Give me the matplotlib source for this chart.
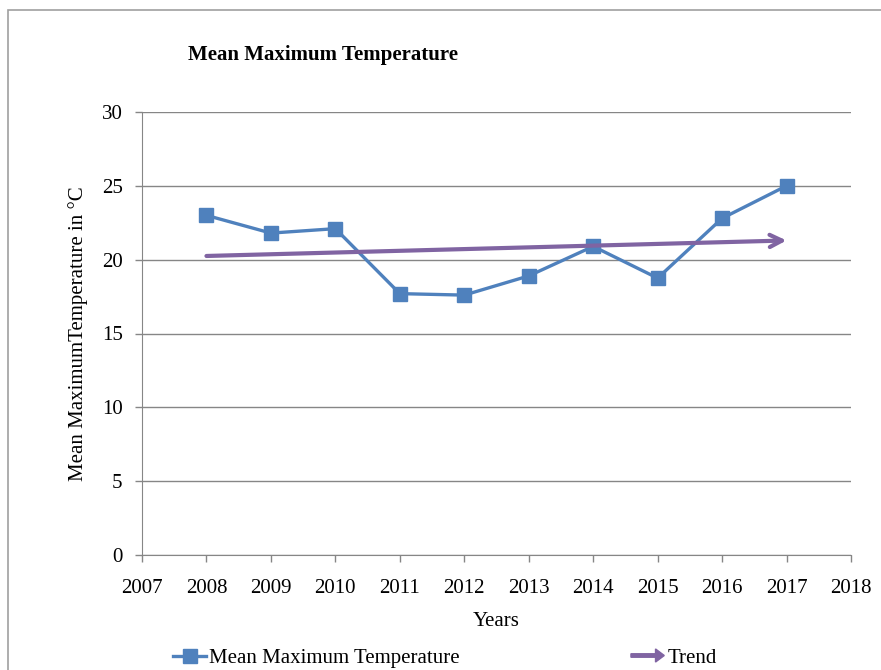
import matplotlib
matplotlib.use('Agg')
from matplotlib import pyplot as plt
from matplotlib.patches import Rectangle, FancyArrow
from matplotlib.legend_handler import HandlerPatch
from matplotlib.lines import Line2D

years = [2008, 2009, 2010, 2011, 2012, 2013, 2014, 2015, 2016, 2017]
mean_max_temp = [23.0, 21.8, 22.1, 17.7, 17.6, 18.9, 20.9, 18.75, 22.8, 25.0]
trend_years = [2008, 2017]
trend_values = [20.25, 21.3]
x_ticks = list(range(2007, 2019))
y_ticks = [0, 5, 10, 15, 20, 25, 30]

blue = '#4F81BD'
purple = '#8064A2'
grey = '#868686'

plt.rcParams['font.family'] = ['Liberation Serif', 'DejaVu Serif']

fig = plt.figure(figsize=(8.81, 6.70), dpi=100)
fig.patches.append(Rectangle((8 / 881, -0.05), 1.1, 1.05 - 10 / 670,
                             transform=fig.transFigure, fill=False,
                             edgecolor='#a0a0a0', lw=1.2))

ax = fig.add_axes([142 / 881, 115 / 670, 709 / 881, 443 / 670])
ax.plot(years, mean_max_temp, color=blue, lw=2.4, marker='s', markersize=9.5,
        zorder=3)
ax.annotate('', xy=(trend_years[1], trend_values[1]),
            xytext=(trend_years[0], trend_values[0]),
            arrowprops=dict(arrowstyle='->', color=purple, lw=3,
                            mutation_scale=22, shrinkA=0, shrinkB=0),
            zorder=4)

ax.set_xlim(2007, 2018)
ax.set_ylim(0, 30)
ax.set_xticks(x_ticks)
ax.set_yticks(y_ticks)
ax.tick_params(labelsize=15, colors=grey, labelcolor='black', length=5,
               width=1)
ax.tick_params(axis='x', pad=12)
ax.tick_params(axis='y', pad=9)
ax.yaxis.grid(True, color=grey, lw=1)
ax.set_axisbelow(True)
for s in ['top', 'right']:
    ax.spines[s].set_visible(False)
for s in ['left', 'bottom']:
    ax.spines[s].set_color(grey)

ax.set_xlabel('Years', fontsize=15, labelpad=10)
ax.set_ylabel('Mean MaximumTemperature in \u00b0C', fontsize=15, labelpad=10)

fig.text(188 / 881, 1 - 55 / 670, 'Mean Maximum Temperature', fontsize=15,
         fontweight='bold', va='center', ha='left')


class ArrowHandler(HandlerPatch):
    def create_artists(self, legend, orig_handle, xdescent, ydescent,
                       width, height, fontsize, trans):
        a = FancyArrow(0, height / 2, width, 0, width=2.5,
                       head_width=height * 0.9, head_length=height * 0.6,
                       length_includes_head=True, color=purple,
                       transform=trans)
        return [a]


h1 = Line2D([], [], color=blue, lw=2.4, marker='s', markersize=9.5)
h2 = FancyArrow(0, 0, 1, 0, color=purple)
fig.legend([h1, h2], ['Mean Maximum Temperature', 'Trend'],
           loc='center', bbox_to_anchor=(0.505, 1 - 658 / 670), ncol=2,
           frameon=False, fontsize=15, columnspacing=8.2, handlelength=1.6,
           handletextpad=0.15, handler_map={FancyArrow: ArrowHandler()})

fig.savefig('out.png', dpi=100)
